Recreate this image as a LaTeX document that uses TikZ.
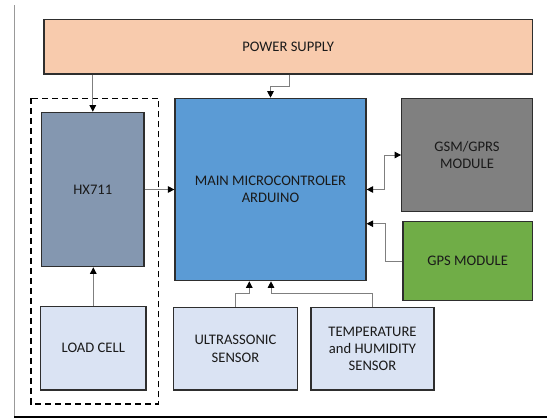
\documentclass[tikz,border=0pt]{standalone}
\usepackage{fontspec}
\setmainfont{Carlito}
\usetikzlibrary{arrows.meta,calc}
\definecolor{psfill}{HTML}{F8CBAD}
\definecolor{mcufill}{HTML}{5B9BD5}
\definecolor{hxfill}{HTML}{8497B0}
\definecolor{gsmfill}{HTML}{808080}
\definecolor{gpsfill}{HTML}{70AD47}
\definecolor{senfill}{HTML}{DAE3F3}
\definecolor{edge}{HTML}{2E2E2E}
\definecolor{wire}{HTML}{7F7F7F}
\definecolor{txt}{HTML}{1A1A1A}
\tikzset{
  blk/.style={draw=edge, line width=1.2pt, inner sep=0pt, align=center,
    text=txt, font=\fontsize{14.6}{17.3}\selectfont},
  wirearrow/.style={draw=wire, line width=0.9pt,
    -{Triangle[length=6.5pt,width=6.5pt,fill=black,color=black]}},
  wirearrows/.style={draw=wire, line width=0.9pt,
    {Triangle[length=6.5pt,width=6.5pt,fill=black,color=black]}-{Triangle[length=6.5pt,width=6.5pt,fill=black,color=black]}},
  dashbox/.style={draw=black, line width=1.2pt, dash pattern=on 6pt off 4pt}
}
\begin{document}
\begin{tikzpicture}[x=1pt,y=-1pt]
\useasboundingbox (0,0) rectangle (547,418);
% frame
\draw[color=gray!80, line width=1.3pt] (14.3,5) -- (14.3,416.5);
\draw[color=black, line width=2pt] (14,416.5) -- (547,416.5);
% dashed group
\draw[dashbox] (31,98.3) rectangle (158.7,404);
% blocks
\node[blk, fill=psfill, minimum width=488.3pt, minimum height=54.7pt] (ps) at (288.2,46.7) {POWER SUPPLY};
\node[blk, fill=hxfill, minimum width=102.3pt, minimum height=154.4pt] (hx) at (92.8,189.5) {HX711};
\node[blk, fill=senfill, minimum width=105.3pt, minimum height=83.3pt] (lc) at (93.3,348.3) {LOAD CELL};
\node[blk, fill=mcufill, minimum width=191pt, minimum height=182.4pt] (mcu) at (270.5,189.5) {MAIN MICROCONTROLER\\ARDUINO};
\node[blk, fill=gsmfill, minimum width=130.6pt, minimum height=113.4pt] (gsm) at (467,155) {GSM/GPRS\\MODULE};
\node[blk, fill=gpsfill, minimum width=129.3pt, minimum height=79pt] (gps) at (467.7,261.2) {GPS MODULE};
\node[blk, fill=senfill, minimum width=124.4pt, minimum height=82.3pt] (us) at (235.5,348.8) {ULTRASSONIC\\SENSOR};
\node[blk, fill=senfill, minimum width=123pt, minimum height=82.3pt] (th) at (372.5,348.8) {TEMPERATURE\\and HUMIDITY\\SENSOR};
% connectors
\draw[wirearrow] (hx.north |- ps.south) -- (hx.north);
\draw[wirearrow] ([xshift=1.1pt]ps.south) -- ++(0,12) -| (mcu.north);
\draw[wirearrow] (hx.east) -- (mcu.west);
\draw[wirearrow] (lc.north) -- (lc.north |- hx.south);
\draw[wirearrows] (mcu.east) -- ++(18.3,0) |- (gsm.west);
\draw[wirearrow] (gps.west) -- ++(-17,0) |- ([yshift=-34.2pt]mcu.east);
\draw[wirearrow] (us.north) -- ++(0,-13.7) -| ([xshift=-21.2pt]mcu.south);
\draw[wirearrow] (th.north) -- ++(0,-13.7) -| ([xshift=0.5pt]mcu.south);
\end{tikzpicture}
\end{document}
